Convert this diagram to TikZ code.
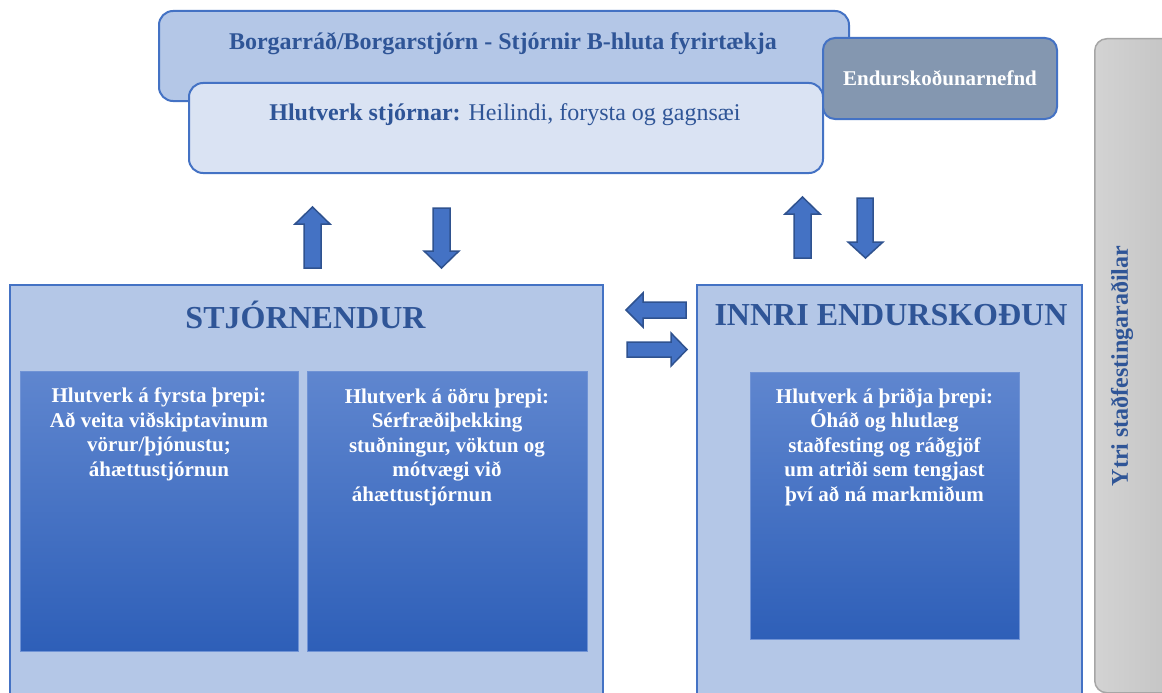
\documentclass[tikz,border=0pt]{standalone}
\usepackage{fontspec}
\setmainfont{Liberation Serif}
\usetikzlibrary{shadings}
\definecolor{titleblue}{HTML}{2F5597}
\definecolor{boxblue}{HTML}{B4C7E7}
\definecolor{paleblue}{HTML}{DAE3F3}
\definecolor{lineblue}{HTML}{4472C4}
\definecolor{auditfill}{HTML}{8497B0}
\definecolor{arrdark}{HTML}{2F528F}
\definecolor{innertop}{HTML}{5F86CF}
\definecolor{innerbot}{HTML}{2E5FB8}
\definecolor{innerline}{HTML}{7093D5}
\definecolor{greyL}{HTML}{D3D3D3}
\definecolor{greyR}{HTML}{BEBEBE}
\definecolor{greyline}{HTML}{A6A6A6}
\begin{document}
\begin{tikzpicture}[x=1pt,y=-1pt,
  topbox/.style={draw=lineblue,line width=2pt,fill=boxblue,rounded corners=14pt,anchor=north west,inner sep=0pt},
  subbox/.style={draw=lineblue,line width=2pt,fill=paleblue,rounded corners=14pt,anchor=north west,inner sep=0pt},
  auditbox/.style={draw=lineblue,line width=2pt,fill=auditfill,rounded corners=12pt,anchor=north west,inner sep=0pt},
  greybox/.style={draw=greyline,line width=1.5pt,left color=greyL,right color=greyR,rounded corners=12pt,anchor=north west,inner sep=0pt},
  bigbox/.style={draw=lineblue,line width=2pt,fill=boxblue,anchor=north west,inner sep=0pt},
  innerbox/.style={draw=innerline,line width=1pt,top color=innertop,bottom color=innerbot,anchor=north west,inner sep=0pt},
  bigtitle/.style={text=titleblue,font=\fontsize{32}{36}\selectfont\bfseries,inner sep=0pt},
  toptext/.style={text=titleblue,font=\fontsize{24}{28}\selectfont,inner sep=0pt},
  innertext/.style={text=white,font=\fontsize{21}{24.5}\selectfont\bfseries,align=center,anchor=north,inner sep=0pt},
  blockarr/.style={fill=lineblue,draw=arrdark,line width=1.5pt,line join=miter}]
\useasboundingbox (0,0) rectangle (1162,693);
\fill[white] (0,0) rectangle (1162,693);

% external assurance providers
\node[greybox,minimum width=110pt,minimum height=654pt] (ytri) at (1094,38) {};
\node[rotate=90,text=titleblue,font=\fontsize{24}{28}\selectfont\bfseries,inner sep=0pt] (ytrit) at (1122,366) {Ytri staðfestingaraðilar};

% board boxes
\node[topbox,minimum width=690pt,minimum height=90pt] (board) at (158,10) {};
\node[toptext,font=\fontsize{24}{28}\selectfont\bfseries] (boardt) at (503,44) {Borgarráð/Borgarstjórn - Stjórnir B-hluta fyrirtækja};
\node[subbox,minimum width=634pt,minimum height=90pt] (role) at (188,82) {};
\node[toptext] (rolet) at (505,115) {\textbf{Hlutverk stjórnar:} Heilindi, forysta og gagnsæi};
\node[auditbox,minimum width=234pt,minimum height=81pt,text=white,font=\fontsize{21}{24}\selectfont\bfseries] (audit) at (822,37) {Endurskoðunarnefnd};

% block arrows
\draw[blockarr] (304,268) -- (304,224) -- (295,224) -- (312.5,207) -- (330,224) -- (321,224) -- (321,268) -- cycle;
\draw[blockarr] (433,208) -- (450,208) -- (450,251) -- (459,251) -- (441.5,268) -- (424,251) -- (433,251) -- cycle;
\draw[blockarr] (794,258) -- (794,214) -- (785,214) -- (802.5,197) -- (820,214) -- (811,214) -- (811,258) -- cycle;
\draw[blockarr] (857,198) -- (873,198) -- (873,242) -- (883,242) -- (865.5,258) -- (848,242) -- (857,242) -- cycle;
\draw[blockarr] (686,302) -- (643,302) -- (643,293) -- (626,310) -- (643,327) -- (643,318) -- (686,318) -- cycle;
\draw[blockarr] (627,342) -- (671,342) -- (671,333) -- (687,349.5) -- (671,366) -- (671,357) -- (627,357) -- cycle;

% management
\node[bigbox,minimum width=593pt,minimum height=430pt] (stj) at (9,284) {};
\node[bigtitle] (stjt) at (305.5,315) {STJÓRNENDUR};
\node[innerbox,minimum width=278pt,minimum height=280pt] (first) at (20,371) {};
\node[innertext] (firstt) at (159,388) {Hlutverk á fyrsta þrepi:\\Að veita viðskiptavinum\\vörur/þjónustu;\\áhættustjórnun};
\node[innerbox,minimum width=280pt,minimum height=280pt] (second) at (307,371) {};
\node[innertext] (secondt) at (447,388) {Hlutverk á öðru þrepi:\\Sérfræðiþekking\\stuðningur, vöktun og\\mótvægi við\\áhættustjórnun\kern50pt};

% internal audit
\node[bigbox,minimum width=385pt,minimum height=430pt] (inn) at (696,284) {};
\node[bigtitle] (innt) at (891,315) {INNRI ENDURSKOÐUN};
\node[innerbox,minimum width=269pt,minimum height=267pt] (third) at (750,372) {};
\node[innertext] (thirdt) at (884.5,388) {Hlutverk á þriðja þrepi:\\Óháð og hlutlæg\\staðfesting og ráðgjöf\\um atriði sem tengjast\\því að ná markmiðum};
\end{tikzpicture}
\end{document}
